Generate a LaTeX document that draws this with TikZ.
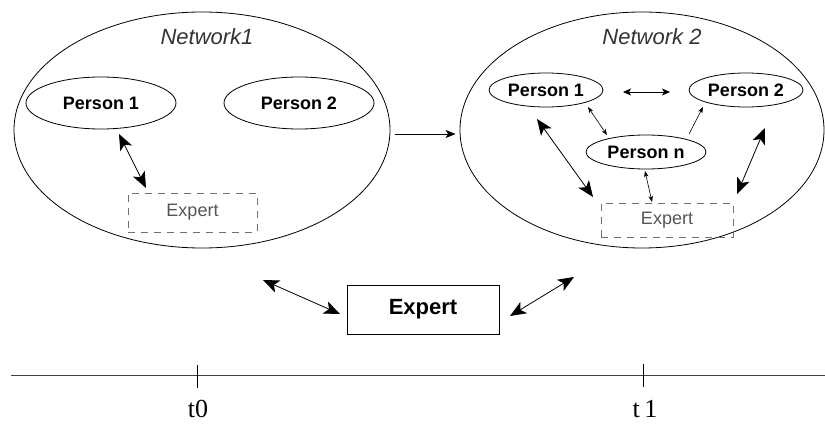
\documentclass[tikz,border=0pt]{standalone}
\usepackage{fontspec}
\setmainfont{Liberation Sans}
\newfontfamily\timefont{Liberation Serif}
\usetikzlibrary{shapes.geometric,arrows.meta}

\definecolor{dashgray}{HTML}{707070}
\definecolor{textgray}{HTML}{555555}

\tikzset{
  netshape/.style={draw, ellipse, line width=0.8pt, inner sep=0pt},
  personshape/.style={draw, ellipse, line width=0.8pt, inner sep=0pt,
    font=\bfseries\fontsize{18}{20}\selectfont},
  netlabel/.style={font=\itshape\fontsize{22}{24}\selectfont, text=black!80},
  ghostexpert/.style={draw=dashgray, dash pattern=on 7pt off 6pt, line width=0.8pt,
    rectangle, inner sep=0pt, font=\fontsize{18}{20}\selectfont, text=textgray},
  expertbox/.style={draw, rectangle, line width=0.8pt, inner sep=0pt,
    minimum width=152pt, minimum height=49pt, font=\bfseries\fontsize{22}{24}\selectfont},
  bigarr/.style={line width=0.8pt, {Stealth[length=16pt,width=13pt,inset=4pt]}-{Stealth[length=16pt,width=13pt,inset=4pt]}},
  midarr/.style={line width=0.8pt, {Stealth[length=8pt,width=7pt,inset=2pt]}-{Stealth[length=8pt,width=7pt,inset=2pt]}},
  smallarr/.style={line width=0.6pt, {Stealth[length=6pt,width=4.5pt,inset=1.5pt]}-{Stealth[length=6pt,width=4.5pt,inset=1.5pt]}},
  smallone/.style={line width=0.6pt, -{Stealth[length=6pt,width=4.5pt,inset=1.5pt]}},
  flowarr/.style={line width=0.8pt, -{Stealth[length=10pt,width=8pt,inset=2.5pt]}},
  timeline/.style={line width=1pt, draw=black!75},
  tick/.style={line width=0.6pt},
  timelabel/.style={font=\timefont\fontsize{26}{28}\selectfont, inner sep=0pt, anchor=base}
}

\begin{document}
\begin{tikzpicture}[x=1pt, y=-1pt]
\useasboundingbox (0,0) rectangle (825,425);

% ---- Network 1 (time t0) ----
\node[netshape, minimum width=376pt, minimum height=236pt] (net1) at (202,130) {};
\node[netlabel] (net1t) at (207,37) {Network1};
\node[personshape, minimum width=150pt, minimum height=52pt] (p1a) at (101,103) {Person 1};
\node[personshape, minimum width=150pt, minimum height=52pt] (p2a) at (299,103) {Person 2};
\node[ghostexpert, minimum width=129pt, minimum height=39pt] (exa) at (192.5,212.5) {Expert};

\coordinate (a1s) at (119,134);
\coordinate (a1e) at (146,188);
\draw[bigarr] (a1s) -- (a1e);

% ---- Network 2 (time t1) ----
\node[netshape, minimum width=364pt, minimum height=236pt] (net2) at (642,130) {};
\node[netlabel] (net2t) at (652,37) {Network 2};
\node[personshape, minimum width=114pt, minimum height=34pt] (p1b) at (546,90) {Person 1};
\node[personshape, minimum width=114pt, minimum height=34pt] (p2b) at (746,90) {Person 2};
\node[personshape, minimum width=120pt, minimum height=34pt] (pnb) at (646,152) {Person n};
\node[ghostexpert, minimum width=132pt, minimum height=34pt] (exb) at (667,220) {Expert};

% ---- transition between the networks ----
\draw[flowarr, shorten <=5pt, shorten >=4pt] ([yshift=-4pt]net1.east) -- ([yshift=-4pt]net2.west);

\coordinate (b0s) at (623,92);
\coordinate (b0e) at (670,92);
\draw[midarr] (b0s) -- (b0e);
\coordinate (b1s) at (588,107);
\coordinate (b1e) at (607,135);
\draw[smallarr] (b1s) -- (b1e);
\coordinate (b2s) at (689,134);
\coordinate (b2e) at (703,107);
\draw[smallone] (b2s) -- (b2e);
\coordinate (b3s) at (537,119);
\coordinate (b3e) at (593,197);
\draw[bigarr] (b3s) -- (b3e);
\coordinate (b4s) at (765,128);
\coordinate (b4e) at (737,194);
\draw[bigarr] (b4s) -- (b4e);
\coordinate (b5s) at (645,171);
\coordinate (b5e) at (652,202);
\draw[smallarr] (b5s) -- (b5e);

% ---- the outside expert ----
\node[expertbox] (ex) at (423,309.5) {Expert};
\coordinate (c1s) at (263,280);
\coordinate (c1e) at (340,314);
\draw[bigarr] (c1s) -- (c1e);
\coordinate (c2s) at (510,316);
\coordinate (c2e) at (574,277);
\draw[bigarr] (c2s) -- (c2e);

% ---- time axis ----
\coordinate (tl0) at (11,375);
\coordinate (tl1) at (825,375);
\draw[timeline] (tl0) -- (tl1);
\coordinate (k0t) at (197,365);
\coordinate (k0b) at (197,388);
\coordinate (k1t) at (643,364);
\coordinate (k1b) at (643,387);
\draw[tick] (k0t) -- (k0b);
\draw[tick] (k1t) -- (k1b);
\node[timelabel] (t0) at (198,417) {t0};
\node[timelabel] (t1) at (645,417) {t\,1};
\end{tikzpicture}
\end{document}
